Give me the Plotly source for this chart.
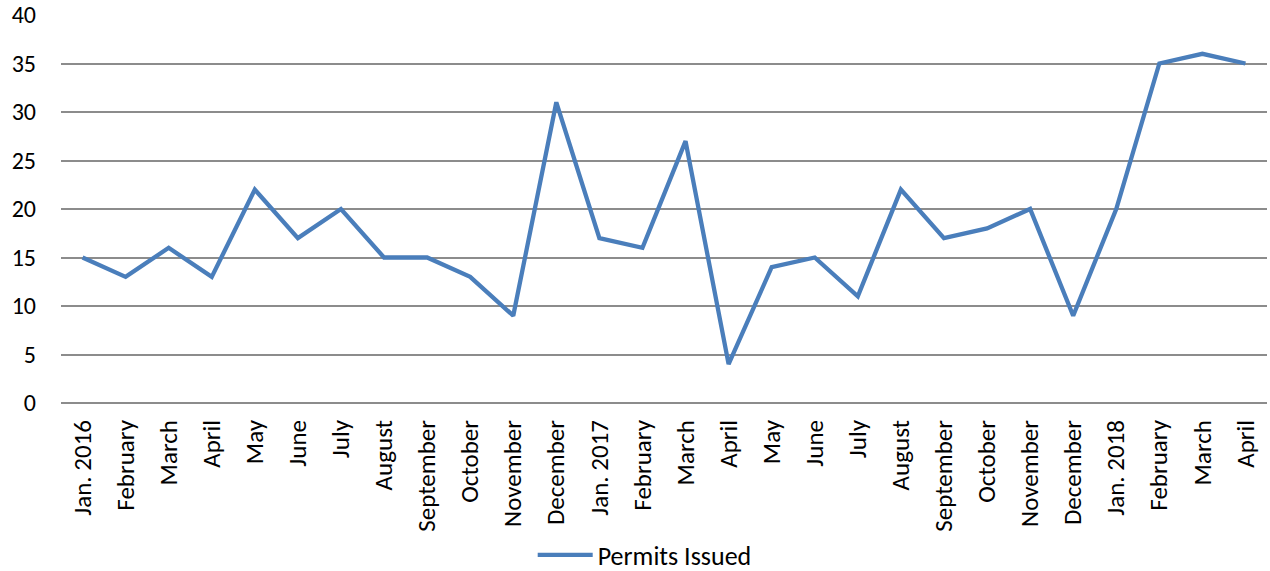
import plotly.graph_objects as go

months = ["Jan. 2016", "February", "March", "April", "May", "June", "July",
          "August", "September", "October", "November", "December",
          "Jan. 2017", "February ", "March ", "April ", "May ", "June ", "July ",
          "August ", "September ", "October ", "November ", "December ",
          "Jan. 2018", "February  ", "March  ", "April  "]
permits = [15, 13, 16, 13, 22, 17, 20, 15, 15, 13, 9, 31,
           17, 16, 27, 4, 14, 15, 11, 22, 17, 18, 20, 9,
           20, 35, 36, 35]

font_family = "Carlito, Calibri, Liberation Sans, sans-serif"
grid_color = "#8C8C8C"

fig = go.Figure()
fig.add_trace(go.Scatter(
    x=list(range(len(months))), y=permits, mode="lines",
    name="Permits Issued",
    line=dict(color="#4A7EBB", width=4.3),
))

fig.update_layout(
    width=1270, height=571,
    margin=dict(l=61, r=3, t=15, b=168),
    paper_bgcolor="white", plot_bgcolor="white",
    font=dict(family=font_family, size=24, color="black"),
    showlegend=True,
    legend=dict(orientation="h", x=0.484, xanchor="center",
                yref="container", y=0.028, yanchor="middle",
                font=dict(size=26), itemwidth=55),
    xaxis=dict(
        range=[-0.5, len(months) - 0.5],
        tickmode="array", tickvals=list(range(len(months))),
        ticktext=[m.strip() for m in months],
        tickfont=dict(size=25),
        tickangle=-90, showgrid=False, zeroline=False,
        showline=False, ticks="", ticklabelstandoff=11,
        automargin=False,
    ),
    yaxis=dict(
        range=[0, 40], dtick=5, showgrid=True, gridcolor=grid_color,
        gridwidth=1.5, zeroline=True, zerolinecolor=grid_color,
        zerolinewidth=1.5, showline=False, ticks="",
        ticklabelstandoff=24, automargin=False,
    ),
)

fig.write_html("out.html")
